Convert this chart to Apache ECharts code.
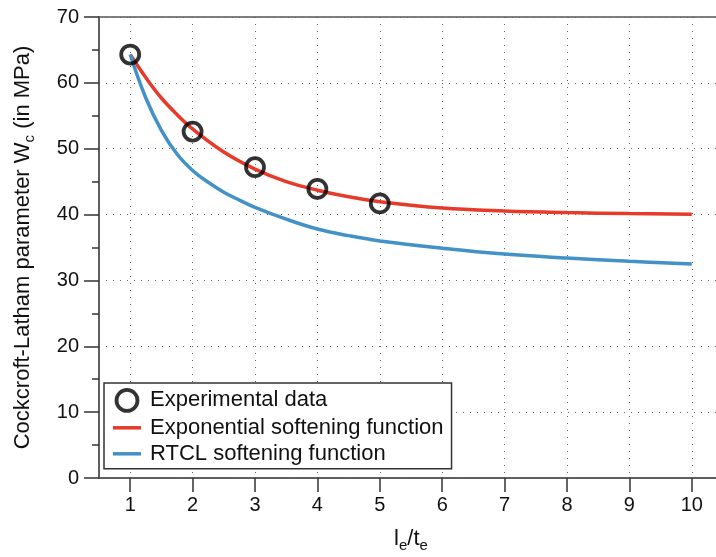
<!DOCTYPE html>
<html>
<head>
<meta charset="utf-8">
<script src="https://cdn.jsdelivr.net/npm/echarts@6/dist/echarts.min.js"></script>
<style>
  html, body { margin: 0; padding: 0; background: #fff; }
  #chart { width: 716px; height: 557px; }
</style>
</head>
<body>
<div id="chart"></div>
<script>
// Experimental Cockcroft-Latham parameter vs. element size ratio
const ratioExp = [1, 2, 3, 4, 5];
const wcExp = [64.3, 52.6, 47.2, 43.9, 41.7];

// Exponential softening function (sampled)
const ratioExpFn = [1, 1.25, 1.5, 1.75, 2, 2.5, 3, 3.5, 4, 4.5, 5, 6, 7, 8, 9, 10];
const wcExpFn = [64.3, 60.8, 57.7, 55.2, 53.0, 49.5, 46.9, 45.0, 43.7, 42.7, 41.95, 41.0, 40.55, 40.3, 40.15, 40.05];

// RTCL softening function (sampled)
const ratioRtcl = [1, 1.25, 1.5, 1.75, 2, 2.25, 2.5, 2.75, 3, 3.5, 4, 4.5, 5, 6, 7, 8, 9, 10];
const wcRtcl = [64.3, 57.7, 52.8, 49.2, 46.7, 44.9, 43.4, 42.2, 41.1, 39.3, 37.8, 36.8, 36.0, 34.9, 34.0, 33.4, 32.9, 32.5];

const xTicks = [1, 2, 3, 4, 5, 6, 7, 8, 9, 10];

const seriesNames = ['Experimental data', 'Exponential softening function', 'RTCL softening function'];

const FONT = '"Liberation Sans", Arial, Helvetica, sans-serif';
const RED = '#e63a2a';
const BLUE = '#4391c6';
const AXIS = '#555';
const DOT = '#666';
const BAR_ICON = 'path://M0,0H28V3.5H0Z';

const pairs = (xs, ys) => xs.map((x, i) => [x, ys[i]]);

const chart = echarts.init(document.getElementById('chart'), null, { renderer: 'canvas' });

chart.setOption({
  animation: false,
  backgroundColor: '#fff',
  textStyle: { fontFamily: FONT },
  grid: {
    left: 99, top: 17, width: 624, height: 461,
    outerBoundsMode: 'none',
    containLabel: false,
    show: true, borderColor: AXIS, borderWidth: 1.5, backgroundColor: 'transparent'
  },
  legend: {
    orient: 'vertical',
    left: 104, top: 383,
    padding: [5, 8, 4, 9],
    itemGap: 4,
    itemWidth: 28,
    itemHeight: 21,
    backgroundColor: '#fff',
    borderColor: '#333',
    borderWidth: 1.5,
    borderRadius: 0,
    textStyle: { fontSize: 22, color: '#111', fontFamily: FONT, padding: [0, 0, 0, 4] },
    data: [
      { name: seriesNames[0], icon: 'circle',
        itemStyle: { color: 'rgba(0,0,0,0)', borderColor: '#000', borderWidth: 3.8 } },
      { name: seriesNames[1], icon: BAR_ICON, itemStyle: { color: RED, borderWidth: 0 } },
      { name: seriesNames[2], icon: BAR_ICON, itemStyle: { color: BLUE, borderWidth: 0 } }
    ]
  },
  xAxis: {
    type: 'value',
    min: 0.5, max: 10.5,
    name: '{a|l}{s|e}{a|/t}{s|e}',
    nameLocation: 'middle',
    nameGap: 47,
    nameTextStyle: {
      rich: {
        a: { fontSize: 22, lineHeight: 28, color: '#111', fontFamily: FONT },
        s: { fontSize: 15, lineHeight: 15, verticalAlign: 'bottom', color: '#111', fontFamily: FONT }
      }
    },
    axisLine: { show: true, onZero: false, lineStyle: { color: AXIS, width: 1.5 } },
    axisTick: { show: true, inside: false, length: 14, customValues: xTicks,
      lineStyle: { color: '#333', width: 1.5 } },
    axisLabel: { customValues: xTicks, fontSize: 20, color: '#111', margin: 17, fontFamily: FONT },
    splitLine: { show: true, lineStyle: { color: DOT, width: 1, type: [1, 6] } },
    minorTick: { show: false }
  },
  yAxis: {
    type: 'value',
    min: 0, max: 70, interval: 10,
    name: '{a|Cockcroft-Latham parameter W}{s|c}{a| (in MPa)}',
    nameLocation: 'middle',
    nameGap: 62,
    nameTextStyle: {
      rich: {
        a: { fontSize: 22, lineHeight: 28, color: '#111', fontFamily: FONT },
        s: { fontSize: 15, lineHeight: 15, verticalAlign: 'bottom', color: '#111', fontFamily: FONT }
      }
    },
    axisLine: { show: true, onZero: false, lineStyle: { color: AXIS, width: 1.5 } },
    axisTick: { show: true, inside: false, length: 15, lineStyle: { color: '#333', width: 1.5 } },
    minorTick: { show: true, splitNumber: 2, length: 7, lineStyle: { color: '#333', width: 1.5 } },
    axisLabel: { fontSize: 20, color: '#111', margin: 20, fontFamily: FONT },
    splitLine: { show: true, lineStyle: { color: DOT, width: 1, type: [1, 6] } }
  },
  series: [
    {
      name: seriesNames[1],
      type: 'line',
      data: pairs(ratioExpFn, wcExpFn),
      showSymbol: false,
      symbol: 'none',
      smooth: 0.4,
      lineStyle: { color: RED, width: 3.5 },
      itemStyle: { color: RED },
      z: 2
    },
    {
      name: seriesNames[2],
      type: 'line',
      data: pairs(ratioRtcl, wcRtcl),
      showSymbol: false,
      symbol: 'none',
      smooth: 0.4,
      lineStyle: { color: BLUE, width: 3.5 },
      itemStyle: { color: BLUE },
      z: 2
    },
    {
      name: seriesNames[0],
      type: 'scatter',
      data: pairs(ratioExp, wcExp),
      symbol: 'circle',
      symbolSize: 18,
      itemStyle: { color: 'rgba(0,0,0,0)', borderColor: '#000', borderWidth: 3.8 },
      z: 4
    }
  ]
});
</script>
</body>
</html>
